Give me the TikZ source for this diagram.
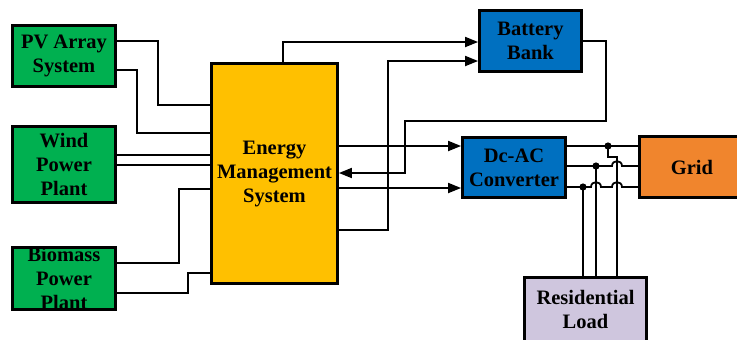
\documentclass[tikz,border=0pt]{standalone}
\usepackage{fontspec}
\setmainfont{Liberation Serif}
\usetikzlibrary{arrows.meta}
\definecolor{boxgreen}{HTML}{00B050}
\definecolor{boxyellow}{HTML}{FFC000}
\definecolor{boxblue}{HTML}{0070C0}
\definecolor{boxorange}{HTML}{F0852D}
\definecolor{boxlav}{HTML}{CFC6DE}
\begin{document}
\begin{tikzpicture}[x=1bp,y=-1bp,
  blk/.style={draw=black,line width=2.8bp,inner sep=0pt,align=center,
    font=\fontsize{20.5bp}{24bp}\selectfont\bfseries},
  conn/.style={line width=1.8bp,black},
  arr/.style={conn,-{Triangle[length=13bp,width=10bp]}},
  jdot/.style={fill=black,radius=3.6}]
\useasboundingbox (0,0) rectangle (737,339);
\clip (0,0) rectangle (737,339);
\fill[white] (0,0) rectangle (737,339);

\node[blk,fill=boxgreen,minimum width=103bp,minimum height=61bp] (pv) at (64,56) {PV Array\\System};
\node[blk,fill=boxgreen,minimum width=103bp,minimum height=76bp] (wind) at (64,164.5) {Wind\\Power\\Plant};
\node[blk,fill=boxgreen,minimum width=103bp,minimum height=62bp] (bio) at (64,278.5) {Biomass\\Power\\Plant};
\node[blk,fill=boxyellow,minimum width=126bp,minimum height=220bp] (ems) at (274.5,173.5) {Energy\\Management\\System};
\node[blk,fill=boxblue,minimum width=102bp,minimum height=61bp] (bat) at (530.5,41) {Battery\\Bank};
\node[blk,fill=boxblue,minimum width=103bp,minimum height=60bp] (dcac) at (514,167.5) {Dc-AC\\Converter};
\node[blk,fill=boxorange,minimum width=105bp,minimum height=61bp] (grid) at (692,167) {Grid};
\node[blk,fill=boxlav,minimum width=122bp,minimum height=64bp] (load) at (585.5,309.5) {Residential\\Load};

% sources to EMS
\draw[conn] (pv.east |- 0,41) -| (158,105) -- (ems.west |- 0,105);
\draw[conn] (pv.east |- 0,70) -| (137,133) -- (ems.west |- 0,133);
\draw[conn] (wind.east |- 0,155) -- (ems.west |- 0,155);
\draw[conn] (wind.east |- 0,165) -- (ems.west |- 0,165);
\draw[conn] (bio.east |- 0,263) -| (179,189) -- (ems.west |- 0,189);
\draw[conn] (bio.east |- 0,293) -| (188,273) -- (ems.west |- 0,273);

% EMS to battery
\draw[arr] (283,0 |- ems.north) |- (bat.west |- 0,42);
\draw[arr] (ems.east |- 0,230) -| (388,61) -- (bat.west |- 0,61);
% battery back to EMS
\draw[arr] (bat.east |- 0,41) -| (606,121) -| (405,173) -- (ems.east |- 0,173);
% EMS to converter
\draw[arr] (ems.east |- 0,146) -- (dcac.west |- 0,146);
\draw[arr] (ems.east |- 0,188) -- (dcac.west |- 0,188);

% converter to grid
\draw[conn] (dcac.east |- 0,146) -- (grid.west |- 0,146);
\draw[conn] (dcac.east |- 0,166) -- (612,166) .. controls (612,159.5) and (622,159.5) .. (622,166) -- (grid.west |- 0,166);
\draw[conn] (dcac.east |- 0,187) -- (591,187) .. controls (591,180.5) and (601,180.5) .. (601,187)
  -- (612,187) .. controls (612,180.5) and (622,180.5) .. (622,187) -- (grid.west |- 0,187);

% taps to load
\draw[conn] (608,146) -- (608,157) -- (617,157) -- (617,0 |- load.north);
\draw[conn] (596,166) -- (596,0 |- load.north);
\draw[conn] (583,187) -- (583,0 |- load.north);
\fill[jdot] (608,146) circle;
\fill[jdot] (596,166) circle;
\fill[jdot] (583,187) circle;
\end{tikzpicture}
\end{document}
